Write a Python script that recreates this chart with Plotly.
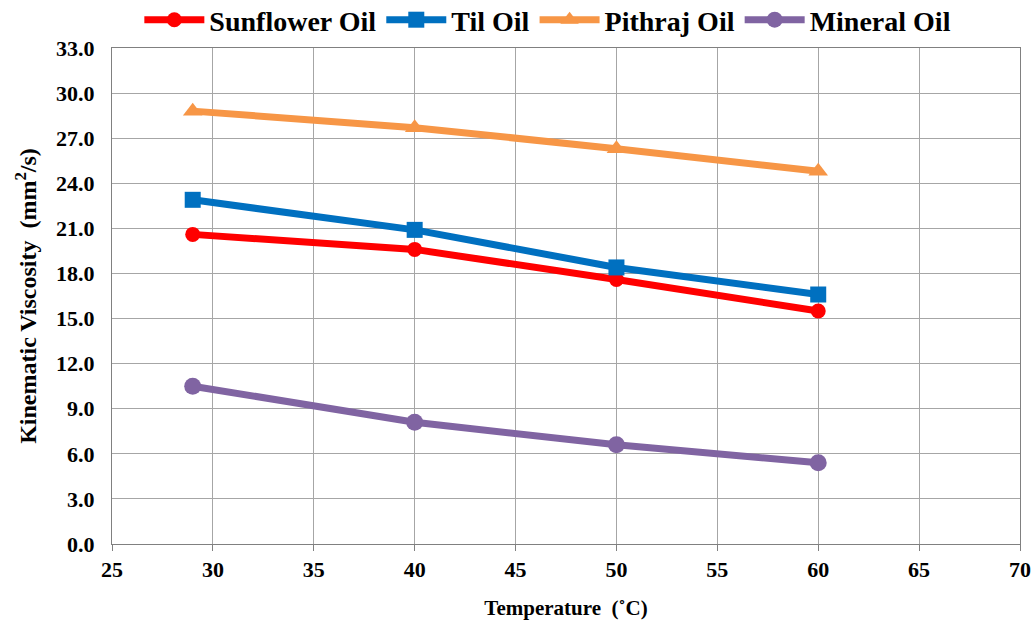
import plotly.graph_objects as go

temperature = [29, 40, 50, 60]
sunflower_oil = [20.6, 19.6, 17.6, 15.5]
til_oil = [22.9, 20.9, 18.4, 16.6]
pithraj_oil = [28.8, 27.7, 26.3, 24.8]
mineral_oil = [10.5, 8.1, 6.6, 5.4]

series = [
    ("Sunflower Oil", sunflower_oil, "#FF0000", "circle", 15),
    ("Til Oil", til_oil, "#0070C0", "square", 16),
    ("Pithraj Oil", pithraj_oil, "#F79646", "triangle-up", 17),
    ("Mineral Oil", mineral_oil, "#8064A2", "circle", 17),
]

FONT = "Liberation Serif"

fig = go.Figure()
for name, vals, color, sym, size in series:
    fig.add_trace(go.Scatter(
        x=temperature, y=vals, name=name, mode="lines+markers",
        line=dict(color=color, width=7),
        marker=dict(symbol=sym, size=size, color=color),
    ))

fig.update_layout(
    width=1034, height=620,
    margin=dict(l=112, r=14, t=48, b=76, autoexpand=False),
    paper_bgcolor="white", plot_bgcolor="white",
    font=dict(family=FONT, color="black", weight="bold"),
    showlegend=True,
    legend=dict(
        orientation="h", x=0.48, xanchor="center",
        yref="container", y=1 - 20 / 620, yanchor="middle",
        font=dict(family=FONT, size=28, color="black", weight="bold"),
        itemwidth=60, tracegroupgap=0,
    ),
    xaxis=dict(
        range=[25, 70], tick0=25, dtick=5, showgrid=True,
        gridcolor="#A6A6A6", gridwidth=1,
        showline=True, linecolor="#808080", linewidth=1, mirror=True,
        ticks="outside", ticklen=6, tickcolor="#808080",
        tickfont=dict(family=FONT, size=22, color="black", weight="bold"),
        title=dict(text="Temperature  (˚C)", standoff=18,
                   font=dict(family=FONT, size=21, color="black", weight="bold")),
        zeroline=False,
    ),
    yaxis=dict(
        range=[0, 33], tick0=0, dtick=3, tickformat=".1f", showgrid=True,
        gridcolor="#A6A6A6", gridwidth=1,
        showline=True, linecolor="#808080", linewidth=1, mirror=True,
        ticks="", tickfont=dict(family=FONT, size=22, color="black", weight="bold"),
        ticklabelstandoff=12,
        title=dict(text="Kinematic Viscosity  (mm<sup>2</sup>/s)", standoff=12,
                   font=dict(family=FONT, size=24, color="black", weight="bold")),
        zeroline=False,
    ),
)

fig.write_html("out.html")
